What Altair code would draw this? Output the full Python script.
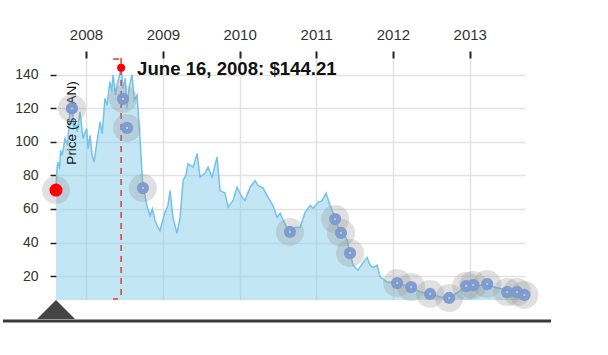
import altair as alt
import pandas as pd

# ---- price series ----
dates = [
    "2007-08-11", "2007-08-16", "2007-08-21", "2007-08-28", "2007-09-02", "2007-09-09",
    "2007-09-23", "2007-10-05", "2007-10-17", "2007-10-26", "2007-11-03", "2007-11-10",
    "2007-11-20", "2007-12-03", "2007-12-18", "2008-01-04", "2008-01-11", "2008-01-20",
    "2008-01-30", "2008-02-08", "2008-02-22", "2008-03-08", "2008-03-18", "2008-03-31",
    "2008-04-10", "2008-04-24", "2008-05-02", "2008-05-09", "2008-05-20", "2008-05-28",
    "2008-06-05", "2008-06-16", "2008-06-25", "2008-07-06", "2008-07-14", "2008-07-25",
    "2008-08-07", "2008-08-18", "2008-08-31", "2008-09-14", "2008-09-28", "2008-10-08",
    "2008-10-17", "2008-11-01", "2008-11-12", "2008-11-25", "2008-12-05", "2008-12-18",
    "2009-01-11", "2009-01-25", "2009-02-04", "2009-02-18", "2009-03-09", "2009-03-24",
    "2009-04-07", "2009-04-20", "2009-05-01", "2009-05-25", "2009-06-13", "2009-06-27",
    "2009-07-21", "2009-08-04", "2009-08-23", "2009-09-16", "2009-09-30", "2009-10-24",
    "2009-11-07", "2009-12-01", "2009-12-20", "2010-01-13", "2010-01-27", "2010-02-20",
    "2010-03-16", "2010-03-30", "2010-04-23", "2010-05-17", "2010-06-09", "2010-06-29",
    "2010-07-13", "2010-07-27", "2010-08-25", "2010-09-22", "2010-10-16", "2010-11-09",
    "2010-12-03", "2010-12-17", "2011-01-10", "2011-01-29", "2011-02-17", "2011-03-08",
    "2011-04-01", "2011-04-25", "2011-05-09", "2011-05-28", "2011-06-11", "2011-06-25",
    "2011-07-19", "2011-08-12", "2011-08-31", "2011-09-14", "2011-09-29", "2011-10-18",
    "2011-11-01", "2011-12-04", "2012-01-21", "2012-03-23", "2012-05-10", "2012-06-26",
    "2012-08-13", "2012-09-20", "2012-11-02", "2012-12-10", "2013-01-12", "2013-03-25",
    "2013-05-11", "2013-06-28", "2013-08-14", "2013-09-21",
]
prices = [
    71.3, 85, 88, 84, 95, 92,
    102, 98, 120, 126, 108, 112,
    106, 118, 102, 108, 96, 104,
    92, 88, 100, 112, 105, 126,
    122, 136, 130, 140, 128, 134,
    138, 144.21, 132, 138, 120, 133,
    140, 125, 128, 102, 72.5, 68,
    62, 56, 60, 53, 50, 47,
    58, 62, 71, 55, 45.5, 55,
    77, 80, 87, 85, 93, 79,
    81.5, 85, 79, 91, 71, 69.5,
    61, 65, 73, 67, 65, 73,
    77, 74, 72.5, 67, 62, 55,
    57.5, 53.5, 46, 49, 49, 58,
    62, 60.5, 64, 65, 69.5, 62,
    54.6, 46, 45.7, 41.5, 34, 26.5,
    23.5, 28, 31, 26.5, 25, 26.5,
    19.5, 16.5, 16, 13.5, 10.5, 9.5,
    7.5, 7, 10, 13.5, 14.5, 14.5,
    13, 11.5, 11.5, 8.5,
]

# ---- highlighted points ----
hl_dates = [
    "2007-10-26", "2008-06-25", "2008-07-14", "2008-09-28", "2010-08-29", "2011-04-01",
    "2011-04-29", "2011-06-11", "2012-01-21", "2012-03-28", "2012-06-26", "2012-09-25",
    "2012-12-15", "2013-01-17", "2013-03-25", "2013-06-28", "2013-08-14", "2013-09-18",
]
hl_prices = [
    120, 125.7, 108.4, 72.5, 46.3, 54,
    45.7, 33.7, 15.8, 13.4, 9.3, 6.9,
    14, 14.6, 15.2, 10.4, 10.4, 8.7,
]

peak_date = "2008-06-16"
peak_price = 144.21
peak_label = "June 16, 2008: $144.21"
y_title = "Price ($ CAN)"
x_domain = ["2007-08-11", "2013-09-21"]
y_domain = [5.7, 150.1]
y_ticks = [20, 40, 60, 80, 100, 120, 140]

FONT = "Liberation Sans"
W, H = 469, 242

series = pd.DataFrame({"date": dates, "price": prices})
hl = pd.DataFrame({"date": hl_dates, "price": hl_prices})
start = pd.DataFrame({"date": dates[:1], "price": prices[:1]})
peak = pd.DataFrame({"date": [peak_date], "price": [peak_price], "label": [peak_label]})
title_df = pd.DataFrame({"t": [y_title]})

x_enc = alt.X(
    "date:T",
    title=None,
    scale=alt.Scale(type="utc", domain=x_domain, nice=False),
    axis=alt.Axis(
        orient="top", format="%Y", tickCount={"interval": "year", "step": 1},
        grid=True, gridColor="#e2e2e2", gridWidth=1.5, domain=False,
        tickColor="#222", tickWidth=2, tickSize=7, labelPadding=9,
        labelFont=FONT, labelFontSize=15, labelColor="#333",
    ),
)
y_enc = alt.Y(
    "price:Q",
    title=None,
    scale=alt.Scale(domain=y_domain, nice=False, zero=False),
    axis=alt.Axis(
        values=y_ticks, grid=True, gridColor="#e2e2e2", gridWidth=1.5, domain=False,
        tickColor="#222", tickWidth=1.5, tickSize=6, labelPadding=12,
        labelFont=FONT, labelFontSize=14, labelColor="#333",
    ),
)

area = alt.Chart(series).mark_area(color="#87CEEB", opacity=0.5, clip=True).encode(x=x_enc, y=y_enc)
line = alt.Chart(series).mark_line(color="#74c2ea", strokeWidth=1.5).encode(x=x_enc, y=y_enc)

ytitle = alt.Chart(title_df).mark_text(
    angle=270, font=FONT, fontSize=13.5, color="#111", align="center", baseline="middle"
).encode(text="t:N", x=alt.value(16), y=alt.value(65))

vrule = alt.Chart(peak).mark_rule(color="#e53935", strokeWidth=1.5, strokeDash=[6, 5]).encode(
    x=x_enc, y=alt.value(0), y2=alt.value(H)
)
top_mark = alt.Chart(peak).mark_rule(color="#e53935", strokeWidth=1.5, xOffset=-8, x2Offset=-2).encode(
    x=x_enc, x2="date:T", y=alt.value(1)
)
bot_mark = alt.Chart(peak).mark_rule(color="#e53935", strokeWidth=1.5, xOffset=-8, x2Offset=-3).encode(
    x=x_enc, x2="date:T", y=alt.value(H - 1)
)

halos_df = pd.concat([hl, start], ignore_index=True)
halos = alt.Chart(halos_df).mark_circle(size=784, color="#999", opacity=0.3).encode(x=x_enc, y=y_enc)
dots = alt.Chart(hl).mark_circle(size=150, color="#7b9acc", opacity=0.95).encode(x=x_enc, y=y_enc)
centers = alt.Chart(hl).mark_circle(size=5, color="white", opacity=0.5).encode(x=x_enc, y=y_enc)

red_start = alt.Chart(start).mark_circle(size=170, color="#ff0000", opacity=1).encode(x=x_enc, y=y_enc)
red_peak = alt.Chart(peak).mark_circle(size=64, color="#ff0000", opacity=1).encode(x=x_enc, y=y_enc)

label = alt.Chart(peak).mark_text(
    align="left", baseline="alphabetic", dx=16, dy=7,
    font=FONT, fontSize=18.6, fontWeight="bold", color="#111",
).encode(x=x_enc, y=y_enc, text="label:N")

bottom_bar = alt.Chart(start).mark_rule(color="#3a3a3a", strokeWidth=3).encode(
    x=alt.value(-53), x2=alt.value(495), y=alt.value(263)
)
handle = alt.Chart(start).mark_point(
    shape="M-1,0.5L0,-0.5L1,0.5Z", size=1444, filled=True, color="#444", opacity=1
).encode(x=x_enc, y=alt.value(251.5))

chart = alt.layer(
    area, line, ytitle, vrule, top_mark, bot_mark, halos, dots, centers,
    red_start, red_peak, label, bottom_bar, handle,
).properties(
    width=W, height=H,
    autosize=alt.AutoSizeParams(type="none"),
    padding={"left": 56, "top": 58, "right": 83, "bottom": 55},
    background="white",
).configure_view(stroke=None)

chart.save("out.html", embed_options={"renderer": "svg", "actions": False})
